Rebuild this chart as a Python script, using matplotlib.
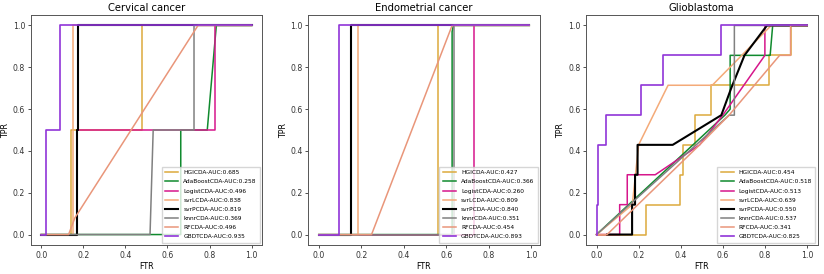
import matplotlib.pyplot as plt

names = ["HGICDA", "AdaBoostCDA", "LogistCDA", "svrLCDA", "svrPCDA", "knnrCDA", "RFCDA", "GBDTCDA"]
colors = ["#DDAA3C", "#108a2e", "#D6168B", "#F4AA78", "black", "gray", "#E9967A", "#9035D8"]
widths = [1.1, 1.1, 1.1, 1.1, 1.5, 1.1, 1.1, 1.2]

titles = ["Cervical cancer", "Endometrial cancer", "Glioblastoma"]

# AUC values from legend
auc_cervical = [0.685, 0.258, 0.496, 0.838, 0.819, 0.369, 0.496, 0.935]
auc_endometrial = [0.427, 0.366, 0.260, 0.809, 0.840, 0.351, 0.454, 0.893]
auc_glioblastoma = [0.454, 0.518, 0.513, 0.639, 0.550, 0.537, 0.341, 0.825]

# ROC curves (fpr, tpr)
cervical = [
    ([0, 0.14, 0.14, 0.479, 0.479, 1.0], [0, 0, 0.5, 0.5, 1, 1]),
    ([0, 0.663, 0.663, 0.789, 0.832, 1.0], [0, 0, 0.5, 0.5, 1, 1]),
    ([0, 0.17, 0.17, 0.826, 0.826, 1.0], [0, 0, 0.5, 0.5, 1, 1]),
    ([0, 0.153, 0.153, 1.0], [0, 0, 1, 1]),
    ([0, 0.168, 0.168, 0.176, 0.176, 1.0], [0, 0, 0.5, 0.5, 1, 1]),
    ([0, 0.517, 0.532, 0.726, 0.726, 1.0], [0, 0, 0.5, 0.5, 1, 1]),
    ([0, 0.13, 0.16, 0.745, 1.0], [0, 0, 0.08, 1, 1]),
    ([0, 0.022, 0.022, 0.091, 0.091, 1.0], [0, 0, 0.5, 0.5, 1, 1]),
]

endometrial = [
    ([0, 0.561, 0.561, 0.99], [0, 0, 1, 1]),
    ([0, 0.627, 0.627, 0.633, 0.99], [0, 0, 0.97, 1, 1]),
    ([0, 0.731, 0.731, 0.99], [0, 0, 1, 1]),
    ([0, 0.182, 0.182, 0.99], [0, 0, 1, 1]),
    ([0, 0.15, 0.15, 0.99], [0, 0, 1, 1]),
    ([0, 0.15, 0.15, 0.637, 0.637, 0.99], [0, 0, 0, 0, 1, 1]),
    ([0, 0.248, 0.627, 0.99], [0, 0, 1, 1]),
    ([0, 0.097, 0.097, 0.99], [0, 0, 1, 1]),
]

glioblastoma = [
    ([0, 0.237, 0.237, 0.397, 0.397, 0.409, 0.409, 0.47, 0.47, 0.546, 0.546, 0.82, 0.82, 0.922, 0.922, 1.0],
     [0, 0, 0.143, 0.143, 0.286, 0.286, 0.429, 0.429, 0.571, 0.571, 0.714, 0.714, 0.857, 0.857, 1, 1]),
    ([0, 0.61, 0.635, 0.635, 0.825, 0.837, 1.0],
     [0, 0.571, 0.6, 0.857, 0.857, 1, 1]),
    ([0, 0.11, 0.11, 0.146, 0.146, 0.279, 0.49, 0.6, 0.8, 0.8, 1.0],
     [0, 0, 0.143, 0.143, 0.286, 0.286, 0.429, 0.571, 0.857, 1, 1]),
    ([0, 0.17, 0.2, 0.34, 0.55, 0.83, 1.0],
     [0, 0.143, 0.429, 0.714, 0.714, 1, 1]),
    ([0.05, 0.169, 0.169, 0.183, 0.183, 0.195, 0.195, 0.362, 0.593, 0.64, 0.703, 0.81, 1.0],
     [0, 0, 0.143, 0.143, 0.286, 0.286, 0.429, 0.429, 0.571, 0.7, 0.857, 1, 1]),
    ([0, 0.63, 0.655, 0.655, 1.0], [0, 0.571, 0.571, 1, 1]),
    ([0, 0.05, 0.49, 0.63, 0.87, 0.922, 0.922, 1.0], [0, 0, 0.429, 0.571, 0.857, 0.857, 1, 1]),
    ([0, 0, 0.005, 0.005, 0.044, 0.044, 0.212, 0.212, 0.315, 0.315, 0.593, 0.593, 1.0],
     [0, 0.143, 0.143, 0.429, 0.429, 0.571, 0.571, 0.714, 0.714, 0.857, 0.857, 1, 1]),
]

panels = [(cervical, auc_cervical), (endometrial, auc_endometrial), (glioblastoma, auc_glioblastoma)]

fig = plt.figure(figsize=(8.24, 2.74), dpi=100)
lefts = [30.7, 308.3, 586.0]
for i, (curves, aucs) in enumerate(panels):
    ax = fig.add_axes([lefts[i] / 824, 29 / 274, 231.5 / 824, 230 / 274])
    for j, (fpr, tpr) in enumerate(curves):
        ax.plot(fpr, tpr, color=colors[j], lw=widths[j],
                label=f"{names[j]}-AUC:{aucs[j]:.3f}")
    ax.set_title(titles[i], fontsize=7.2, pad=3)
    ax.set_xlabel("FTR", fontsize=5.8, labelpad=2)
    ax.set_ylabel("TPR", fontsize=5.8, labelpad=2)
    ax.tick_params(labelsize=5.6, length=2.5, width=0.6, pad=1.5, colors="#333333")
    for s in ax.spines.values():
        s.set_linewidth(0.7)
        s.set_color("#555555")
    ax.legend(loc="lower right", fontsize=4.2, frameon=True, borderpad=0.6,
              labelspacing=0.7, handlelength=2.3, fancybox=False, edgecolor="#cccccc",
              borderaxespad=0.35)

fig.savefig("out.png", dpi=100)
